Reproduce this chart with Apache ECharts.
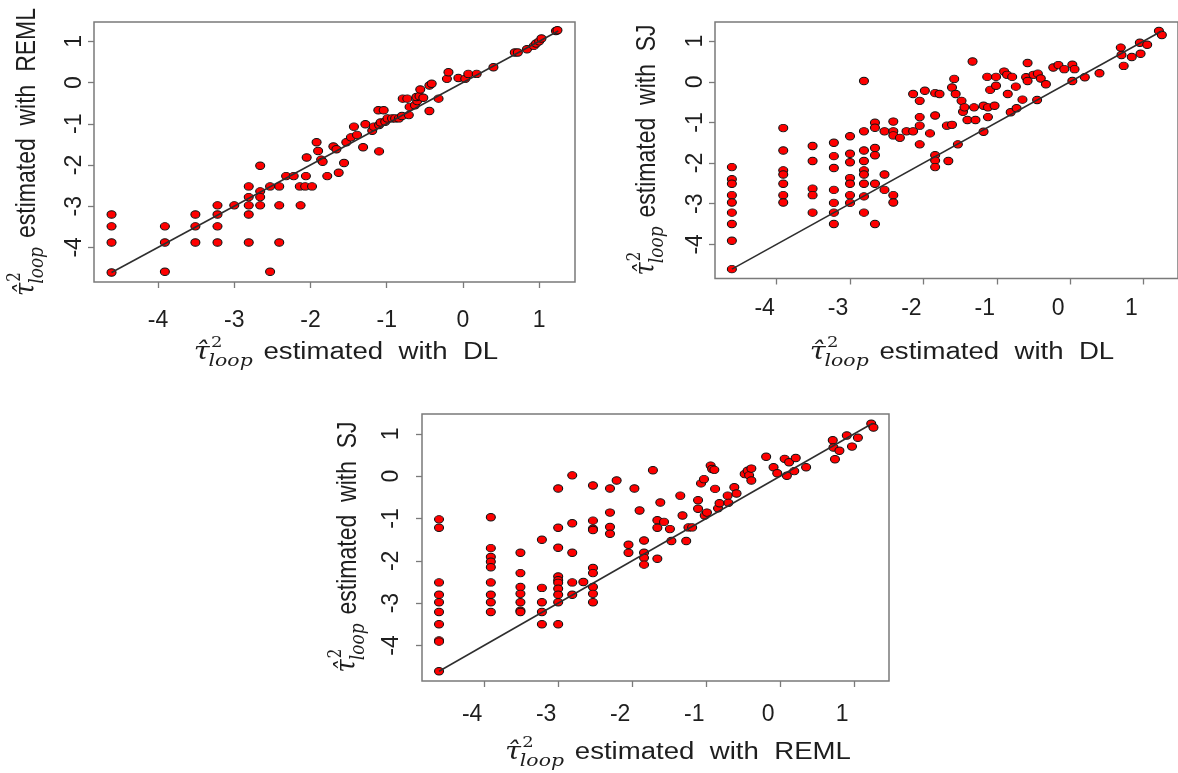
<!DOCTYPE html>
<html><head><meta charset="utf-8">
<script src="https://cdn.jsdelivr.net/npm/echarts@6/dist/echarts.min.js"></script>
<style>html,body{margin:0;padding:0;background:#fff}#c{width:1178px;height:773px}</style>
</head><body><div id="c"></div>
<script>
// ---------------- data ----------------
const tickValues = [-4, -3, -2, -1, 0, 1];
const axisRange = [-4.84, 1.47];
const diagEnds = [-4.61, 1.25];

// x: DL, y: REML
const ptsDLvsREML = [
[-4.61,-4.61],[-4.61,-3.20],[-4.61,-3.49],[-4.61,-3.88],
[-3.91,-3.49],[-3.91,-3.88],[-3.91,-4.59],
[-3.51,-3.20],[-3.51,-3.49],[-3.51,-3.88],
[-3.22,-2.98],[-3.22,-3.20],[-3.22,-3.49],[-3.22,-3.88],
[-3.00,-2.98],
[-2.81,-2.52],[-2.81,-2.78],[-2.81,-2.98],[-2.81,-3.20],[-2.81,-3.88],
[-2.66,-2.02],[-2.66,-2.64],[-2.66,-2.78],[-2.66,-2.98],
[-2.53,-4.59],[-2.53,-2.52],
[-2.41,-2.52],[-2.41,-2.98],[-2.41,-3.88],
[-2.32,-2.27],[-2.22,-2.27],
[-2.14,-2.52],[-2.13,-2.98],[-2.07,-2.52],[-2.06,-2.27],[-2.05,-1.82],[-1.98,-2.52],
[-1.92,-1.45],[-1.90,-1.66],[-1.86,-1.87],[-1.84,-1.92],[-1.78,-2.27],[-1.70,-1.55],[-1.66,-1.62],[-1.63,-2.19],
[-1.56,-1.95],[-1.53,-1.45],[-1.47,-1.33],[-1.43,-1.07],[-1.39,-1.27],[-1.31,-1.57],[-1.28,-1.01],
[-1.19,-1.17],[-1.17,-1.07],[-1.10,-1.03],[-1.10,-1.67],[-1.08,-0.97],[-1.11,-0.67],[-1.04,-0.67],
[-1.02,-0.95],[-0.99,-0.87],[-0.93,-0.87],[-0.89,-0.87],[-0.84,-0.87],[-0.80,-0.81],[-0.79,-0.39],
[-0.73,-0.39],[-0.71,-0.79],[-0.70,-0.59],[-0.63,-0.55],[-0.60,-0.45],[-0.61,-0.35],[-0.57,-0.33],
[-0.56,-0.17],[-0.52,-0.37],[-0.44,-0.69],[-0.44,-0.07],[-0.41,-0.03],[-0.32,-0.39],[-0.21,0.09],
[-0.19,0.25],[-0.06,0.11],[0.03,0.09],[0.07,0.21],[0.18,0.21],[0.40,0.37],[0.68,0.73],[0.72,0.73],
[0.84,0.81],[0.93,0.89],[0.96,0.95],[1.00,1.00],[1.03,1.07],[1.22,1.25],[1.24,1.27]
];

// x: DL, y: SJ
const ptsDLvsSJ = [
[-4.61,-2.10],[-4.61,-2.40],[-4.61,-2.51],[-4.61,-2.79],[-4.61,-2.97],[-4.61,-3.22],[-4.61,-3.50],[-4.61,-3.91],[-4.61,-4.61],
[-3.91,-1.14],[-3.91,-1.69],[-3.91,-2.18],[-3.91,-2.28],[-3.91,-2.51],[-3.91,-2.79],[-3.91,-2.97],
[-3.51,-1.58],[-3.51,-1.95],[-3.51,-2.63],[-3.51,-2.79],[-3.51,-3.22],
[-3.22,-1.50],[-3.22,-1.83],[-3.22,-2.12],[-3.22,-2.66],[-3.22,-2.98],[-3.22,-3.22],[-3.22,-3.50],
[-3.00,-1.34],[-3.00,-1.77],[-3.00,-1.98],[-3.00,-2.37],[-3.00,-2.51],[-3.00,-2.79],[-3.00,-2.98],
[-2.81,0.02],[-2.81,-1.22],[-2.81,-1.69],[-2.81,-1.95],[-2.81,-2.18],[-2.81,-2.28],[-2.81,-2.51],[-2.81,-2.82],[-2.81,-3.22],
[-2.66,-1.01],[-2.66,-1.13],[-2.66,-1.63],[-2.66,-1.81],[-2.66,-2.51],[-2.66,-3.50],
[-2.53,-1.22],[-2.53,-2.28],[-2.53,-2.66],
[-2.41,-0.98],[-2.41,-1.22],[-2.41,-1.32],[-2.41,-2.79],[-2.41,-2.97],
[-2.32,-1.38],[-2.23,-1.22],[-2.14,-0.30],[-2.14,-1.22],[-2.05,-0.47],[-2.05,-0.87],[-2.05,-1.08],[-2.05,-1.54],
[-1.98,-0.22],[-1.91,-1.27],[-1.84,-0.28],[-1.84,-0.83],[-1.84,-1.81],[-1.84,-1.94],[-1.84,-2.10],[-1.78,-0.30],
[-1.68,-1.08],[-1.66,-1.95],[-1.61,-1.06],[-1.61,-0.14],[-1.58,0.07],[-1.56,-0.30],[-1.53,-1.54],[-1.48,-0.47],
[-1.46,-0.74],[-1.44,-0.63],[-1.40,-0.94],[-1.33,0.50],[-1.31,-0.63],[-1.29,-0.94],[-1.18,-0.59],[-1.18,-1.23],
[-1.13,0.12],[-1.12,-0.63],[-1.12,-0.87],[-1.09,-0.20],[-1.03,-0.59],[-1.01,0.12],[-1.01,-0.10],[-0.90,0.25],
[-0.86,0.17],[-0.85,-0.30],[-0.81,-0.75],[-0.79,0.12],[-0.74,-0.12],[-0.73,-0.65],[-0.65,-0.44],[-0.60,0.11],
[-0.58,0.46],[-0.58,0.02],[-0.50,0.17],[-0.45,-0.45],[-0.44,0.20],[-0.40,0.08],[-0.33,-0.06],[-0.23,0.35],
[-0.16,0.41],[-0.08,0.31],[0.03,0.42],[0.03,0.02],[0.06,0.31],[0.20,0.11],[0.40,0.21],[0.69,0.84],
[0.70,0.66],[0.73,0.39],[0.84,0.61],[0.95,0.96],[0.96,0.69],[1.05,0.91],[1.21,1.25],[1.25,1.15]
];

// x: REML, y: SJ
const ptsREMLvsSJ = [
[-4.61,-1.02],[-4.61,-1.22],[-4.61,-2.51],[-4.61,-2.80],[-4.61,-2.98],[-4.61,-3.21],[-4.61,-3.50],[-4.61,-3.88],[-4.61,-3.91],[-4.61,-4.61],
[-3.91,-0.97],[-3.91,-1.70],[-3.91,-1.91],[-3.91,-2.02],[-3.91,-2.15],[-3.91,-2.51],[-3.91,-2.80],[-3.91,-2.98],[-3.91,-3.21],
[-3.51,-1.81],[-3.51,-2.29],[-3.51,-2.62],[-3.51,-2.78],[-3.51,-2.98],[-3.51,-3.18],[-3.51,-3.21],
[-3.22,-1.50],[-3.22,-2.64],[-3.22,-2.98],[-3.22,-3.21],[-3.22,-3.50],
[-3.00,-0.29],[-3.00,-1.22],[-3.00,-1.69],[-3.00,-2.37],[-3.00,-2.46],[-3.00,-2.52],[-3.00,-2.66],[-3.00,-2.80],[-3.00,-2.98],[-3.00,-3.50],
[-2.81,0.02],[-2.81,-1.11],[-2.81,-1.81],[-2.81,-2.51],[-2.81,-2.80],
[-2.66,-2.50],
[-2.53,-0.22],[-2.53,-1.05],[-2.53,-1.24],[-2.53,-1.27],[-2.53,-2.17],[-2.53,-2.29],[-2.53,-2.62],[-2.53,-2.78],[-2.53,-2.98],
[-2.30,-0.29],[-2.30,-0.86],[-2.30,-1.20],[-2.30,-1.36],
[-2.21,-0.10],[-2.05,-1.62],[-2.05,-1.81],[-1.97,-0.29],[-1.90,-0.81],
[-1.84,-1.52],[-1.84,-1.81],[-1.84,-1.93],[-1.84,-2.09],[-1.72,0.14],[-1.66,-1.04],[-1.66,-1.22],[-1.66,-1.95],
[-1.62,-0.62],[-1.57,-1.08],[-1.49,-1.25],[-1.47,-1.53],[-1.35,-0.46],[-1.32,-0.93],[-1.27,-1.53],[-1.24,-1.21],
[-1.19,-1.21],[-1.11,-0.57],[-1.11,-0.77],[-1.07,-0.17],[-1.03,-0.07],[-1.02,-0.93],[-0.99,-0.86],[-0.94,0.25],
[-0.92,0.17],[-0.89,0.15],[-0.88,-0.30],[-0.84,-0.76],[-0.82,-0.64],[-0.71,-0.46],[-0.70,-0.63],[-0.62,-0.26],
[-0.59,-0.41],[-0.48,0.05],[-0.44,0.13],[-0.42,0.02],[-0.39,0.18],[-0.39,-0.10],[-0.19,0.46],[-0.09,0.21],
[-0.04,0.07],[0.06,0.41],[0.09,0.01],[0.12,0.33],[0.19,0.12],[0.21,0.43],[0.35,0.21],[0.71,0.85],
[0.72,0.68],[0.74,0.40],[0.80,0.60],[0.90,0.96],[0.97,0.70],[1.05,0.91],[1.23,1.24],[1.26,1.15]
];

// ---------------- layout ----------------
const panels = [
  {pts: ptsDLvsREML, xName: 'DL', yName: 'REML',
   grid: {left: 94, top: 22, width: 481, height: 260},
   xMargin: 27, xShift: 0, yMargin: 8,
   xTitle: [346, 353], yTitle: [27, 152]},
  {pts: ptsDLvsSJ, xName: 'DL', yName: 'SJ',
   grid: {left: 715, top: 22, width: 466, height: 256.5},
   xMargin: 19, xShift: 12, yMargin: 8,
   xTitle: [962, 353], yTitle: [647, 150]},
  {pts: ptsREMLvsSJ, xName: 'REML', yName: 'SJ',
   grid: {left: 422, top: 414, width: 467, height: 267},
   xMargin: 22, xShift: 12, yMargin: 19,
   xTitle: [678, 753], yTitle: [348, 547]}
];

const TXT = '#1e1e1e';
const GREY = '#7a7a7a';
const SANS = '"Liberation Sans", Arial, sans-serif';
const SERIF = '"DejaVu Serif", "Liberation Serif", serif';

const measureCtx = document.createElement('canvas').getContext('2d');
function textW(str, size, fam, style) {
  measureCtx.font = (style || 'normal') + ' ' + size + 'px ' + fam;
  return measureCtx.measureText(str).width;
}

function axisTitle(method, cx, cy, vertical) {
  const sans = 'estimated  with  ' + method;
  const tauW = textW('τ', 24, SERIF, 'italic');
  const loopW = textW('loop', 17, SERIF, 'italic');
  const sansX = tauW + loopW + 8;
  const total = sansX + textW(sans, 23, SANS);
  const stretch = 1.2;
  const children = [
    {type: 'text', x: 0, y: 0, style: {text: 'τ̂', fontSize: 24, fontStyle: 'italic', fontFamily: SERIF, fill: TXT, align: 'left', verticalAlign: 'middle'}},
    {type: 'text', x: tauW + 1, y: -10, style: {text: '2', fontSize: 15, fontFamily: SERIF, fill: TXT, align: 'left', verticalAlign: 'middle'}},
    {type: 'text', x: tauW - 1, y: 9, style: {text: 'loop', fontSize: 17, fontStyle: 'italic', fontFamily: SERIF, fill: TXT, align: 'left', verticalAlign: 'middle'}},
    {type: 'text', x: sansX, y: 0, style: {text: sans, fontSize: 23, fontFamily: SANS, fill: TXT, align: 'left', verticalAlign: 'middle'}}
  ];
  if (!vertical) {
    return {type: 'group', x: cx - total * stretch / 2, y: cy, scaleX: stretch, scaleY: 1, children};
  }
  return {type: 'group', x: cx, y: cy + total / 2, rotation: Math.PI / 2, scaleX: 1, scaleY: stretch, children};
}

function makeAxis(i, pos, label) {
  return {
    type: 'value', gridIndex: i, position: pos, min: axisRange[0], max: axisRange[1],
    axisLine: {show: false, onZero: false},
    splitLine: {show: false},
    axisTick: {show: true, inside: false, length: 6, customValues: tickValues.slice(), lineStyle: {color: GREY, width: 1.3}},
    axisLabel: label
  };
}

const option = {
  backgroundColor: '#ffffff',
  animation: false,
  grid: [], xAxis: [], yAxis: [], series: [], graphic: []
};

panels.forEach((p, i) => {
  option.grid.push(Object.assign({show: true, borderColor: GREY, borderWidth: 1.5, backgroundColor: 'transparent'}, p.grid));
  option.xAxis.push(makeAxis(i, 'bottom', {
    customValues: tickValues.slice(), margin: p.xMargin, fontSize: 23, fontFamily: SANS, color: TXT,
    padding: p.xShift ? [0, p.xShift * 2, 0, 0] : 0
  }));
  option.yAxis.push(makeAxis(i, 'left', {
    customValues: tickValues.slice(), margin: p.yMargin, rotate: 90, fontSize: 23, fontFamily: SANS, color: TXT
  }));
  option.series.push({
    type: 'scatter', xAxisIndex: i, yAxisIndex: i, data: p.pts,
    symbol: 'circle', symbolSize: [9, 7.5],
    itemStyle: {color: '#ff0000', borderColor: '#111', borderWidth: 1, opacity: 1},
    z: 2, silent: true
  });
  option.series.push({
    type: 'line', xAxisIndex: i, yAxisIndex: i,
    data: diagEnds.map(v => [v, v]), showSymbol: false, symbol: 'none',
    lineStyle: {color: '#2e2e2e', width: 1.6}, z: 3, silent: true
  });
  option.graphic.push(axisTitle(p.xName, p.xTitle[0], p.xTitle[1], false));
  option.graphic.push(axisTitle(p.yName, p.yTitle[0], p.yTitle[1], true));
});

const chart = echarts.init(document.getElementById('c'), null, {renderer: 'canvas'});
chart.setOption(option);
</script>
</body></html>
